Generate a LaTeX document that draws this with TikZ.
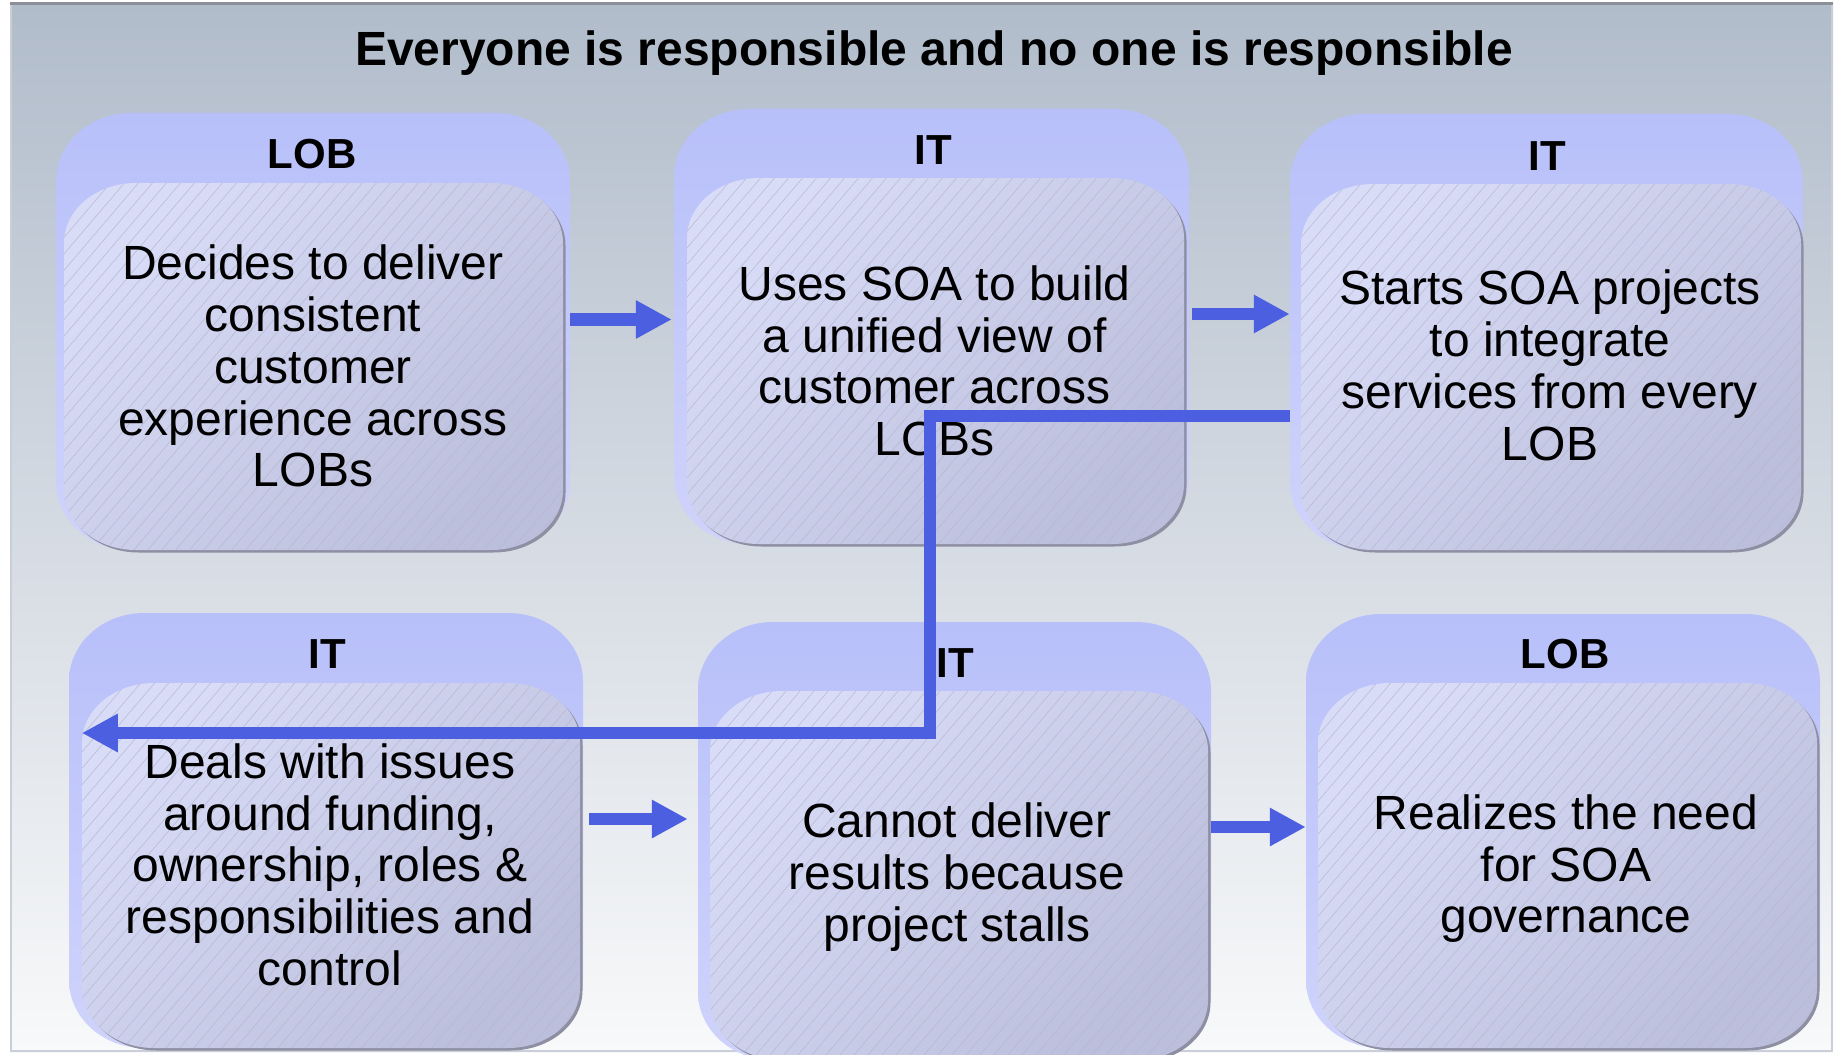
\documentclass[tikz,border=0pt]{standalone}
\usepackage{fontspec}
\setmainfont{Liberation Sans}
\usetikzlibrary{arrows.meta,fit}
\definecolor{bgtop}{HTML}{B1BCCB}
\definecolor{bgbot}{HTML}{F8F9FA}
\definecolor{outtop}{HTML}{B8C0FA}
\definecolor{outbot}{HTML}{CFD3FB}
\definecolor{inlight}{HTML}{D9DCF7}
\definecolor{indark}{HTML}{BCBFDB}
\definecolor{shadowc}{HTML}{8E8FA3}
\definecolor{hatchc}{HTML}{B6B8D1}
\definecolor{arrowblue}{HTML}{4C5FE0}
\definecolor{framedark}{HTML}{8B8F99}
\definecolor{framelight}{HTML}{C9CED8}
\tikzset{
 outerfill/.style={top color=outtop,bottom color=outbot},
 innerfill/.style={top color=inlight,bottom color=indark,shading angle=45},
 hatchline/.style={draw=hatchc,line width=0.5pt},
 arr/.style={draw=arrowblue,line width=12.5pt,line join=miter,-{Triangle[length=36pt,width=36pt]}},
 body/.style={font=\fontsize{48}{51.7}\selectfont,align=center,inner sep=0pt,anchor=north},
 head/.style={font=\bfseries\fontsize{42}{46}\selectfont,inner sep=0pt,anchor=base},
 titlestyle/.style={font=\bfseries\fontsize{48}{52}\selectfont,inner sep=0pt,anchor=base},
 boxref/.style={inner sep=0pt,draw=none}
}
% rounded rectangle with elliptical corners: options, L, T, R, B, rx, ry
\newcommand{\rr}[7]{%
  \path[#1] (#2,{#3+#7}) .. controls (#2,{#3+0.448*#7}) and ({#2+0.448*#6},#3) .. ({#2+#6},#3)
   -- ({#4-#6},#3) .. controls ({#4-0.448*#6},#3) and (#4,{#3+0.448*#7}) .. (#4,{#3+#7})
   -- (#4,{#5-#7}) .. controls (#4,{#5-0.448*#7}) and ({#4-0.448*#6},#5) .. ({#4-#6},#5)
   -- ({#2+#6},#5) .. controls ({#2+0.448*#6},#5) and (#2,{#5-0.448*#7}) .. (#2,{#5-#7}) -- cycle;}
% box: name, L, T, R, B, iL, iT, iR, iB
\newcommand{\soabox}[9]{%
  \rr{outerfill}{#2}{#3}{#4}{#5}{75}{68}
  \rr{fill=shadowc}{#6+2.5}{#7+2.5}{#8+2.5}{#9+2.5}{72}{60}
  \rr{innerfill}{#6}{#7}{#8}{#9}{72}{60}
  \begin{scope}
    \rr{clip}{#6}{#7}{#8}{#9}{72}{60}
    \foreach \s in {0,14,...,910} \draw[hatchline] ({#6-380+\s},{#9+2}) -- ++(380,-446);
  \end{scope}
  \node[boxref,fit={(#2,#3) (#4,#5)}] (#1) {};
  \node[boxref,fit={(#6,#7) (#8,#9)}] (#1i) {};
}
\begin{document}
\begin{tikzpicture}[x=1pt,y=-1pt]
\useasboundingbox (0,0) rectangle (1835,1054);
\fill[white] (0,0) rectangle (1835,1054);
\path[top color=bgtop,bottom color=bgbot] (10,3) rectangle (1833,1052);
\draw[framelight,line width=2pt] (11,4) -- (11,1051) -- (1832,1051) -- (1832,4);
\draw[framedark,line width=3pt] (10,4) -- (1833,4);

\node[titlestyle] (title) at (934,66) {Everyone is responsible and no one is responsible};

\soabox{b1}{56}{113}{570}{550}{64}{183}{563}{550}
\soabox{b2}{674}{109}{1189}{544}{687}{178}{1184}{544}
\soabox{b3}{1290}{114}{1803}{550}{1301}{184}{1801}{550}
\soabox{b4}{69}{613}{583}{1048}{82}{683}{580}{1048}
\soabox{b5}{698}{622}{1211}{1060}{710}{691}{1208}{1060}
\soabox{b6}{1306}{614}{1820}{1048}{1318}{683}{1817}{1048}

\node[head] (h1) at (312,168) {LOB};
\node[head] (h2) at (933,164) {IT};
\node[head] (h3) at (1547,170) {IT};
\node[head] (h4) at (327,668) {IT};
\node[head] (h5) at (955,677) {IT};
\node[head] (h6) at (1565,668) {LOB};

\node[body] (t1) at (313,245) {Decides to deliver\\consistent\\customer\\experience across\\LOBs};
\node[body] (t2) at (934.5,265.5) {Uses SOA to build\\a unified view of\\customer across\\LOBs};
\node[body] (t3) at (1550,270) {Starts SOA projects\\to integrate\\services from every\\LOB};
\node[body] (t4) at (330,743.5) {Deals with issues\\around funding,\\ownership, roles \&\\responsibilities and\\control};
\node[body] (t5) at (957,803) {Cannot deliver\\results because\\project stalls};
\node[body] (t6) at (1566,794.5) {Realizes the need\\for SOA\\governance};

\coordinate (bend) at (930,733);
\draw[arr] (b1.east |- 0,319.5) -- ([xshift=-2pt]b2.west |- 0,319.5);
\draw[arr] ([xshift=3pt]b2.east |- 0,314) -- (b3.west |- 0,314);
\draw[arr] ([xshift=6pt]b4.east |- 0,819) -- ([xshift=-10pt]b5.west |- 0,819);
\draw[arr] (b5.east |- 0,827) -- (b6.west |- 0,827);
\draw[arr] (b3.west |- 0,416) -| (bend) -- (b4i.west |- bend);
\end{tikzpicture}
\end{document}
